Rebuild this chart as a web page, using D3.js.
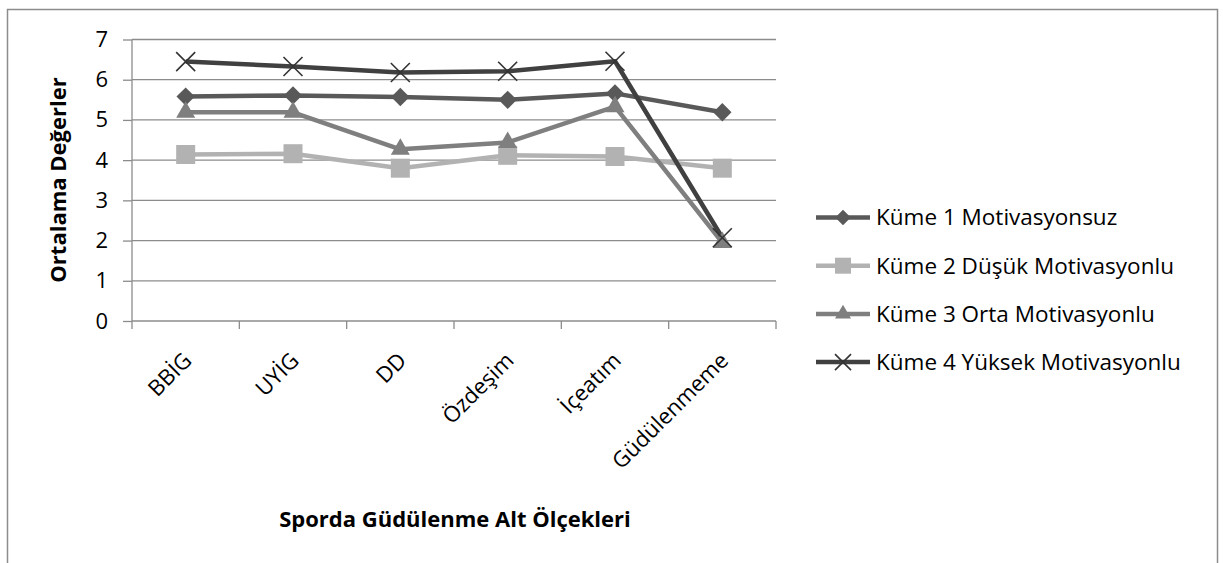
<!DOCTYPE html>
<html>
<head>
<meta charset="utf-8">
<script src="https://cdn.jsdelivr.net/npm/d3@7.9.0/dist/d3.min.js"></script>
<style>
  body { margin: 0; background: #fff; }
  svg { font-family: "Open Sans", sans-serif; }
</style>
</head>
<body>
<svg width="1223" height="563"></svg>
<script>
const categories = ['BBİG', 'UYİG', 'DD', 'Özdeşim', 'İçeatım', 'Güdülenmeme'];
const seriesNames = ['Küme 1 Motivasyonsuz', 'Küme 2 Düşük Motivasyonlu', 'Küme 3 Orta Motivasyonlu', 'Küme 4 Yüksek Motivasyonlu'];
const kume1 = [5.58, 5.61, 5.57, 5.50, 5.66, 5.19];
const kume2 = [4.14, 4.16, 3.80, 4.12, 4.09, 3.80];
const kume3 = [5.19, 5.19, 4.27, 4.44, 5.33, 1.95];
const kume4 = [6.45, 6.33, 6.18, 6.21, 6.46, 2.07];
const yTicks = [0, 1, 2, 3, 4, 5, 6, 7];

const seriesValues = [kume1, kume2, kume3, kume4];
const colors = ['#595959', '#b2b2b2', '#7f7f7f', '#404040'];
const symbols = ['diamond', 'square', 'triangle', 'cross'];

const svg = d3.select('svg');

// chart frame
svg.append('rect')
  .attr('x', 7.5).attr('y', 9.5)
  .attr('width', 1210).attr('height', 600)
  .attr('fill', 'none').attr('stroke', '#8c8c8c').attr('stroke-width', 1.5);

const x = d3.scaleBand().domain(categories).range([132, 776]);
const y = d3.scaleLinear().domain([0, 7]).range([321, 39.5]);

// gridlines
svg.append('g').selectAll('line').data(yTicks.slice(1)).join('line')
  .attr('x1', 132).attr('x2', 776)
  .attr('y1', d => y(d)).attr('y2', d => y(d))
  .attr('stroke', '#8c8c8c').attr('stroke-width', 1.3);

// y axis
const yAxis = svg.append('g').attr('transform', 'translate(132,0)')
  .call(d3.axisLeft(y).tickValues(yTicks).tickFormat(d3.format('d')).tickSize(9).tickPadding(15));
yAxis.selectAll('path, line').attr('stroke', '#8c8c8c').attr('stroke-width', 1.3);
yAxis.select('.domain').attr('d', `M0,${y(0)}V${y(7)}`);
yAxis.selectAll('text').attr('font-size', 22).attr('fill', '#000')
  .attr('font-family', '"Open Sans", sans-serif');

// x axis
const xAxis = svg.append('g').attr('transform', `translate(0,${y(0)})`);
xAxis.append('line').attr('x1', 132).attr('x2', 776)
  .attr('stroke', '#8c8c8c').attr('stroke-width', 1.3);
xAxis.selectAll('.tk').data(categories.concat([null])).join('line')
  .attr('x1', (d, i) => x.range()[0] + i * x.bandwidth())
  .attr('x2', (d, i) => x.range()[0] + i * x.bandwidth())
  .attr('y1', 0).attr('y2', 8)
  .attr('stroke', '#8c8c8c').attr('stroke-width', 1.3);
xAxis.selectAll('text').data(categories).join('text')
  .attr('transform', d => `translate(${x(d) + x.bandwidth() / 2 - 3.5},${30}) rotate(-45)`)
  .attr('text-anchor', 'end')
  .attr('dy', '0.7em')
  .attr('font-size', 22)
  .text(d => d);

// axis titles
svg.append('text')
  .attr('transform', 'translate(66,180) rotate(-90)')
  .attr('text-anchor', 'middle')
  .attr('font-size', 22).attr('font-weight', 'bold')
  .text('Ortalama Değerler');
svg.append('text')
  .attr('x', 455).attr('y', 527)
  .attr('text-anchor', 'middle')
  .attr('font-size', 22).attr('font-weight', 'bold')
  .text('Sporda Güdülenme Alt Ölçekleri');

const line = d3.line()
  .x((d, i) => x(categories[i]) + x.bandwidth() / 2)
  .y(d => y(d));

function drawMarker(g, type, color, size) {
  if (type === 'cross') {
    const s = size * 0.5;
    g.append('path')
      .attr('d', `M${-s},${-s}L${s},${s}M${-s},${s}L${s},${-s}`)
      .attr('stroke', '#333').attr('stroke-width', 1.6).attr('fill', 'none');
  } else if (type === 'triangle') {
    g.append('path')
      .attr('d', d3.symbol(d3.symbolTriangle, size * size * 0.433)())
      .attr('fill', color);
  } else {
    g.append('path')
      .attr('d', d3.symbol(d3.symbolSquare, size * size)())
      .attr('transform', type === 'diamond' ? 'rotate(45)' : null)
      .attr('fill', color);
  }
}

// series lines + markers
seriesValues.forEach((vals, si) => {
  svg.append('path')
    .datum(vals)
    .attr('d', line)
    .attr('fill', 'none')
    .attr('stroke', colors[si])
    .attr('stroke-width', 4.5)
    .attr('stroke-linejoin', 'round');
});
const markerSize = { diamond: 13, square: 19, triangle: 19, cross: 19 };
seriesValues.forEach((vals, si) => {
  vals.forEach((v, i) => {
    const g = svg.append('g')
      .attr('transform', `translate(${x(categories[i]) + x.bandwidth() / 2},${y(v)})`);
    drawMarker(g, symbols[si], colors[si], markerSize[symbols[si]]);
  });
});

// legend
const legend = svg.append('g');
seriesNames.forEach((name, si) => {
  const ly = 217.5 + si * 48.2;
  const g = legend.append('g');
  g.append('line').attr('x1', 816).attr('x2', 870).attr('y1', ly).attr('y2', ly)
    .attr('stroke', colors[si]).attr('stroke-width', 4.5);
  const m = g.append('g').attr('transform', `translate(843,${ly})`);
  drawMarker(m, symbols[si], colors[si], symbols[si] === 'diamond' ? 11 : 16);
  g.append('text').attr('x', 876).attr('y', ly).attr('dy', '0.35em')
    .attr('font-size', 22.5).text(name);
});
</script>
</body>
</html>
